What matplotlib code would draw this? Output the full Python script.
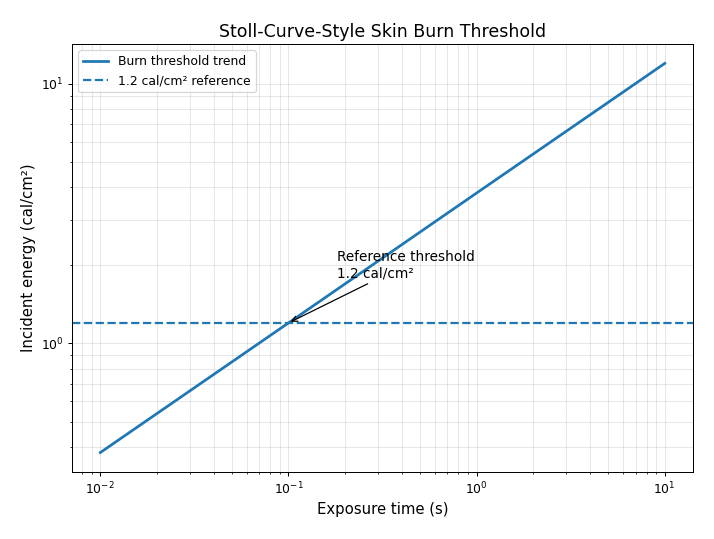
import numpy as np
import matplotlib
matplotlib.use('Agg')
import matplotlib.pyplot as plt

# values (log-log straight line)
exposure_time = [0.01, 0.1, 1.0, 10.0]
incident_energy = [0.38, 1.2, 3.8, 12.0]
reference_level = 1.2
annot_point = (0.1, 1.2)
annot_text_pos = (0.18, 1.8)

# 8x6 inch layout drawn at a lower dpi to land on 714x539
fig, ax = plt.subplots(figsize=(8, 6.04), dpi=89.25)
fig.subplots_adjust(left=0.101, right=0.9706, top=0.9184, bottom=0.1243)

ax.plot(exposure_time, incident_energy, linewidth=2.2, label='Burn threshold trend')
ax.axhline(reference_level, linestyle='--', linewidth=1.8, label='1.2 cal/cm² reference')

ax.set_xscale('log')
ax.set_yscale('log')

ax.annotate('Reference threshold\n1.2 cal/cm²', xy=annot_point, xytext=annot_text_pos,
			fontsize=11, arrowprops=dict(arrowstyle='->', color='black'))

ax.set_title('Stoll-Curve-Style Skin Burn Threshold', fontsize=14)
ax.set_xlabel('Exposure time (s)', fontsize=12)
ax.set_ylabel('Incident energy (cal/cm²)', fontsize=12)
ax.grid(True, which='both', alpha=0.3)
ax.legend(loc='upper left')

fig.savefig('out.png', dpi=89.25)
